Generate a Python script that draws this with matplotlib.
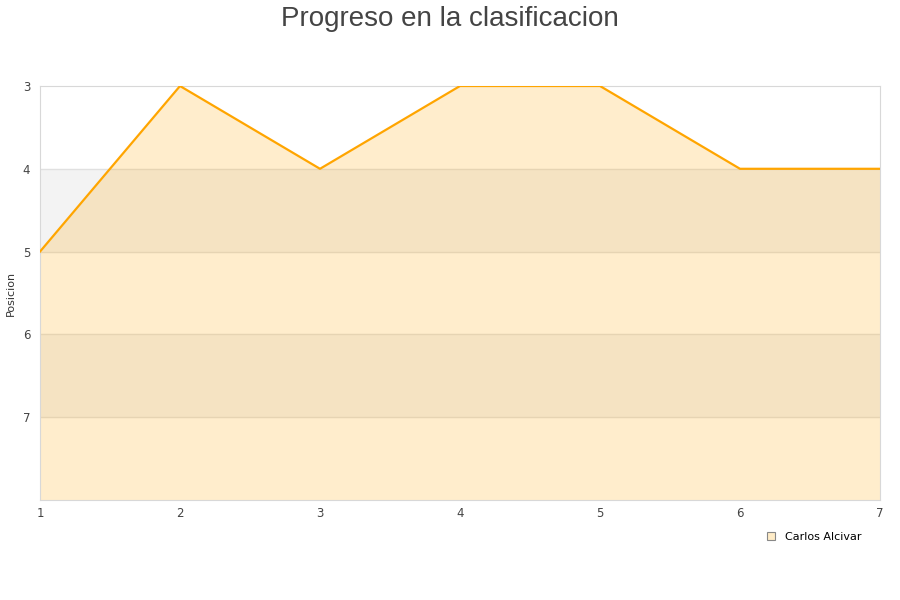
import numpy as np
import matplotlib.pyplot as plt
from matplotlib.lines import Line2D

jornadas = [1, 2, 3, 4, 5, 6, 7]
posicion = [5, 3, 4, 3, 3, 4, 4]
serie = "Carlos Alcivar"
y_ticks = [3, 4, 5, 6, 7]

fig = plt.figure(figsize=(9, 6), dpi=100)
ax = fig.add_axes([40 / 900, 100 / 600, 840 / 900, 414 / 600])

ymin, ymax = 3, 8
# alternating horizontal bands
for i, lo in enumerate(range(ymin, ymax)):
    if i % 2 == 1:
        ax.axhspan(lo, lo + 1, color="#f3f3f3", zorder=0, lw=0)
for t in range(ymin + 1, ymax):
    ax.axhline(t, color="#e0e0e0", lw=1, zorder=1)

ax.fill_between(jornadas, posicion, ymax, color="#ffa500", alpha=0.2, lw=0, zorder=2)
ax.plot(jornadas, posicion, color="#ffa500", lw=1.6, zorder=3)

ax.set_xlim(1, 7)
ax.set_ylim(ymax, ymin)
ax.set_yticks(y_ticks)
ax.set_xticks(jornadas)
ax.tick_params(length=0, labelsize=8.5, colors="#444444")
ax.tick_params(axis="y", pad=7)
ax.tick_params(axis="x", pad=5)
for s in ax.spines.values():
    s.set_color("#d8d8d8")
ax.set_ylabel("Posicion", fontsize=8, color="#333333")
ax.yaxis.set_label_coords(-24 / 840, 0.5)

fig.suptitle("Progreso en la clasificacion", fontsize=20, color="#444444",
             family="Liberation Sans", y=0.99)

h = Line2D([], [], marker="s", ls="none", markersize=6,
           markerfacecolor="#ffecc7", markeredgecolor="#888888", markeredgewidth=0.8)
fig.legend([h], [serie], loc="center left", bbox_to_anchor=(755 / 900, 1 - 537 / 600),
           frameon=False, fontsize=8, handletextpad=0.3, borderaxespad=0)

fig.savefig("out.png", dpi=100)
